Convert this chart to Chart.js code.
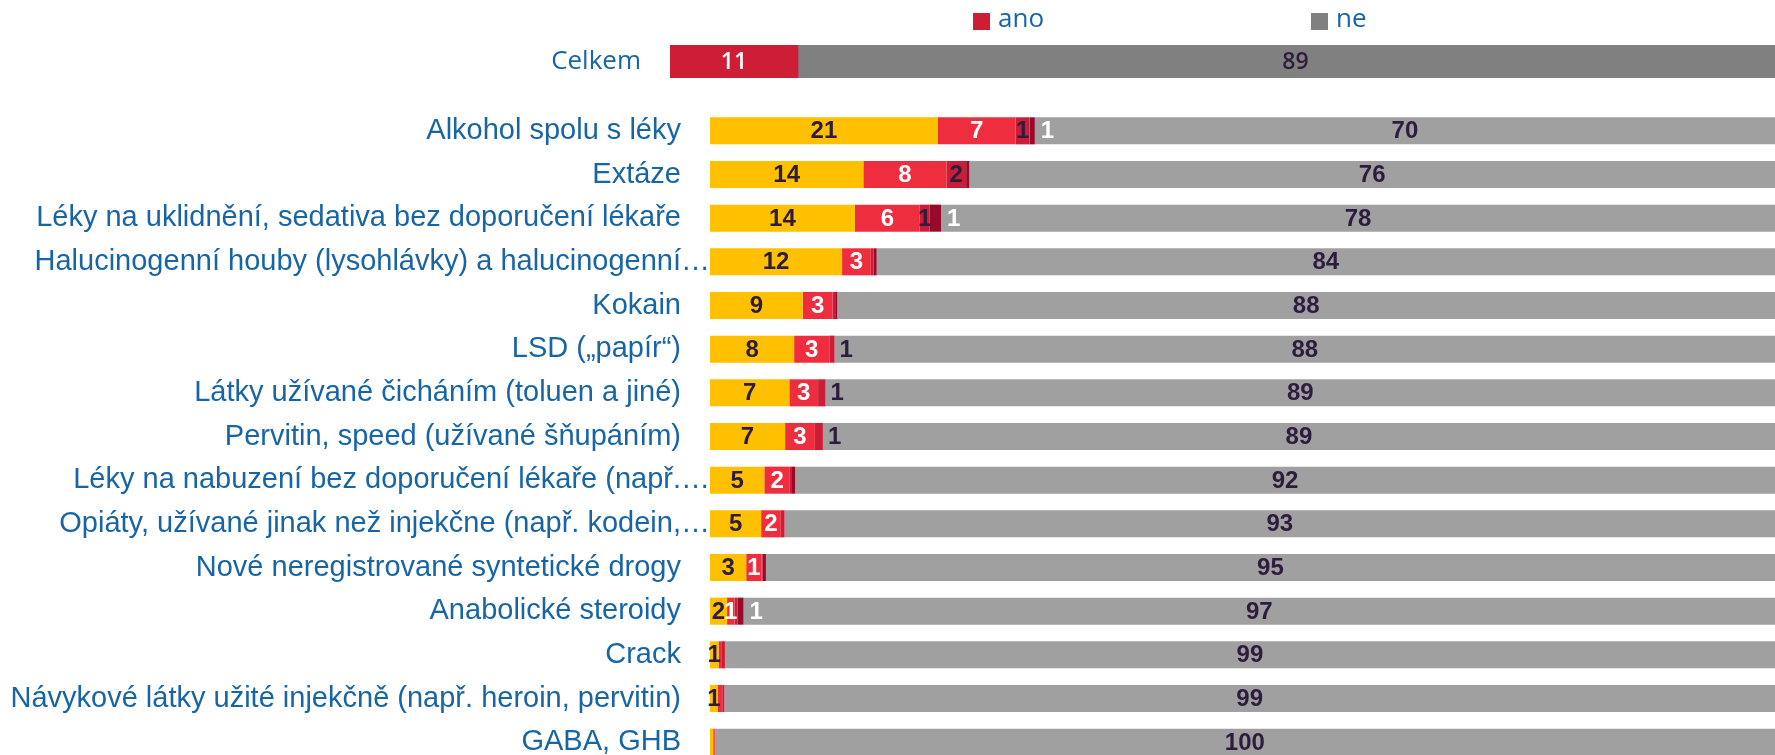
<!DOCTYPE html>
<html lang="cs">
<head>
<meta charset="utf-8">
<script src="https://cdn.jsdelivr.net/npm/chart.js@4.4.1/dist/chart.umd.min.js"></script>
<style>
    html, body { margin: 0; padding: 0; background: #fff; overflow: hidden; }
    #topChart { position: absolute; left: 0; top: 0; }
    #mainChart { position: absolute; left: 0; top: 95px; }
</style>
</head>
<body>
<canvas id="topChart" width="1793" height="95"></canvas>
<canvas id="mainChart" width="1775" height="669"></canvas>
<script>
// Celkem (ano / ne)
const totalLabels = ['Celkem'];
const totalAno = [11.4];
const totalNe = [88.6];

// Substances, top to bottom
const categories = [
    'Alkohol spolu s léky',
    'Extáze',
    'Léky na uklidnění, sedativa bez doporučení lékaře',
    'Halucinogenní houby (lysohlávky) a halucinogenní…',
    'Kokain',
    'LSD („papír“)',
    'Látky užívané čicháním (toluen a jiné)',
    'Pervitin, speed (užívané šňupáním)',
    'Léky na nabuzení bez doporučení lékaře (např.…',
    'Opiáty, užívané jinak než injekčne (např. kodein,…',
    'Nové neregistrované syntetické drogy',
    'Anabolické steroidy',
    'Crack',
    'Návykové látky užité injekčně (např. heroin, pervitin)',
    'GABA, GHB'
];
const anoYellow  = [21.4, 14.4, 13.6, 12.4, 8.7, 7.9, 7.45, 7.05, 5.1, 4.8, 3.4, 1.6, 0.8, 0.75, 0.3];
const anoRed     = [7.3, 7.8, 6.1, 2.7, 2.8, 3.3, 2.7, 2.8, 2.4, 1.85, 1.45, 0.7, 0.25, 0.4, 0.15];
const anoDarkRed = [1.3, 1.85, 0.9, 0.25, 0.25, 0.5, 0.7, 0.75, 0.2, 0.35, 0.1, 0.3, 0.35, 0.2, 0];
const anoCrimson = [0.5, 0.3, 1.1, 0.3, 0.2, 0, 0, 0, 0.3, 0, 0.3, 0.55, 0, 0, 0];
const neGray     = [69.5, 75.65, 78.3, 84.35, 88.05, 88.3, 89.15, 89.4, 92.0, 93.0, 94.75, 96.85, 98.6, 98.65, 99.55];

const BLUE = '#1765A5';
const DARK = '#2E1C3F';
const legendX = [973, 1311];

// value labels drawn on / next to each segment
const barLabels = {
    id: 'barLabels',
    afterDatasetsDraw(chart) {
        const ctx = chart.ctx;
        ctx.save();
        ctx.textBaseline = 'middle';
        chart.data.datasets.forEach((ds, i) => {
            const meta = chart.getDatasetMeta(i);
            meta.data.forEach((bar, j) => {
                const v = ds.data[j];
                const txt = Math.round(v);
                if (!v || txt < 1) return;
                const p = bar.getProps(['x', 'y', 'base'], true);
                ctx.font = ds.labelFont;
                ctx.fillStyle = ds.labelColor;
                const outside = ds.labelPlace === 'after' || (ds.labelPlace === 'auto' && v < 0.85);
                if (outside) {
                    ctx.textAlign = 'left';
                    ctx.fillText(String(txt), p.x + ds.labelGap, p.y + 1);
                } else {
                    ctx.textAlign = 'center';
                    ctx.fillText(String(txt), (p.x + p.base) / 2, p.y + 1);
                }
            });
        });
        ctx.restore();
    }
};

const topLegend = {
    id: 'topLegend',
    afterDraw(chart) {
        const ctx = chart.ctx;
        ctx.save();
        ctx.font = '26px "Open Sans"';
        ctx.textBaseline = 'middle';
        ctx.textAlign = 'left';
        chart.data.datasets.forEach((ds, i) => {
            ctx.fillStyle = ds.backgroundColor;
            ctx.fillRect(legendX[i], 13, 17, 17);
            ctx.fillStyle = BLUE;
            ctx.fillText(ds.label, legendX[i] + 25, 20);
        });
        ctx.restore();
    }
};

// y axis: fixed width, no extra label padding above/below the bars
function fixAxis(width) {
    return function (scale) {
        scale.width = width;
        scale.paddingTop = 0;
        scale.paddingBottom = 0;
    };
}

new Chart(document.getElementById('topChart'), {
    type: 'bar',
    data: {
        labels: totalLabels,
        datasets: [
            { label: 'ano', data: totalAno, backgroundColor: '#CE1E36',
              labelColor: '#ffffff', labelFont: '600 23px "Open Sans"', labelPlace: 'center' },
            { label: 'ne', data: totalNe, backgroundColor: '#808080',
              labelColor: DARK, labelFont: '600 23px "Open Sans"', labelPlace: 'center' }
        ]
    },
    options: {
        responsive: false,
        animation: false,
        indexAxis: 'y',
        barPercentage: 1,
        categoryPercentage: 1,
        layout: { padding: { top: 45, bottom: 17, left: 0, right: 0 } },
        plugins: { legend: { display: false }, tooltip: { enabled: false } },
        scales: {
            x: { stacked: true, min: 0, max: 100, display: false },
            y: {
                stacked: true,
                grid: { display: false, drawTicks: false },
                border: { display: false },
                ticks: { color: BLUE, font: { family: 'Open Sans', size: 26 }, padding: 29 },
                afterFit: fixAxis(670)
            }
        }
    },
    plugins: [barLabels, topLegend]
});

const boldLabel = 'bold 24px "Liberation Sans"';

new Chart(document.getElementById('mainChart'), {
    type: 'bar',
    data: {
        labels: categories,
        datasets: [
            { label: 'ano 1', data: anoYellow, backgroundColor: '#FFC000',
              labelColor: DARK, labelFont: boldLabel, labelPlace: 'center' },
            { label: 'ano 2', data: anoRed, backgroundColor: '#EE2E3E',
              labelColor: '#ffffff', labelFont: boldLabel, labelPlace: 'center' },
            { label: 'ano 3', data: anoDarkRed, backgroundColor: '#C91D38',
              labelColor: DARK, labelFont: boldLabel, labelPlace: 'auto', labelGap: 5 },
            { label: 'ano 4', data: anoCrimson, backgroundColor: '#960A2A',
              labelColor: '#ffffff', labelFont: boldLabel, labelPlace: 'after', labelGap: 6 },
            { label: 'ne', data: neGray, backgroundColor: '#A0A0A0',
              labelColor: DARK, labelFont: boldLabel, labelPlace: 'center' }
        ]
    },
    options: {
        responsive: false,
        animation: false,
        indexAxis: 'y',
        barPercentage: 0.62,
        categoryPercentage: 1,
        layout: { padding: { top: 14, bottom: 0, left: 0, right: 0 } },
        plugins: { legend: { display: false }, tooltip: { enabled: false } },
        scales: {
            x: { stacked: true, min: 0, max: 100, display: false },
            y: {
                stacked: true,
                grid: { display: false, drawTicks: false },
                border: { display: false },
                ticks: {
                    color: BLUE,
                    font: { family: 'Liberation Sans', size: 29 },
                    padding: 0,
                    autoSkip: false,
                    // truncated labels run up to the bars, the others keep a gap
                    callback(value) {
                        const s = this.getLabelForValue(value);
                        return s.endsWith('…') ? s : s + '\u2003';
                    }
                },
                afterFit: fixAxis(710)
            }
        }
    },
    plugins: [barLabels]
});
</script>
</body>
</html>
